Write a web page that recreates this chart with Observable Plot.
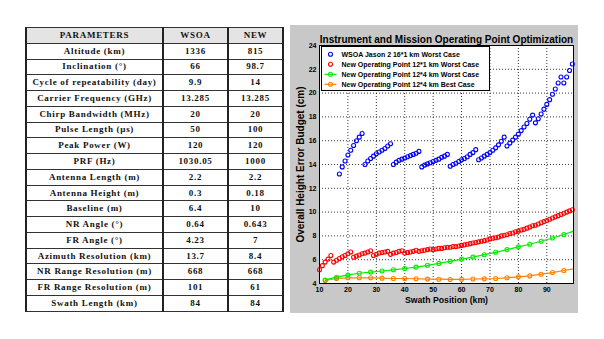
<!DOCTYPE html>
<html><head><meta charset="utf-8">
<script src="https://cdn.jsdelivr.net/npm/d3@7"></script>
<script src="https://cdn.jsdelivr.net/npm/@observablehq/plot@0.6"></script>
<style>
html,body{margin:0;padding:0;background:#fff;width:604px;height:339px;overflow:hidden;position:relative}
#tbl{position:absolute;left:25px;top:27px;border-collapse:collapse;width:257px;height:284px;font-family:"Liberation Serif","Times New Roman",serif;font-weight:bold;font-size:9px;color:#111;table-layout:fixed}
#tbl td{padding:0;text-align:center;border-top:1px solid #333;border-bottom:1px solid #333;border-left:2px solid #222;border-right:2px solid #222;white-space:nowrap;overflow:visible;letter-spacing:0.7px;line-height:1}
#tbl tr{height:15.78px}
#tbl tr.hdr td{background:#e4e4e4}
#panel{position:absolute;left:290px;top:25px;width:288px;height:288px;background:#c8c8c8}
#chart{position:absolute;left:0;top:0}
#legend{position:absolute;left:31px;top:21px;width:167px;height:43px;background:#fff;border:1px solid #000;font-family:"Liberation Sans",Arial,sans-serif;font-weight:bold;font-size:7px}
#legend svg{position:absolute;left:0;top:0}
</style>
</head><body>
<table id="tbl"><colgroup><col style="width:137px"><col style="width:65px"><col style="width:55px"></colgroup><tbody></tbody></table>
<div id="panel"><div id="chart"></div><div id="legend"></div></div>
<script>
// ---- table data ----
const tableHeader = ["PARAMETERS", "WSOA", "NEW"];
const paramNames = ["Altitude (km)", "Inclination (°)", "Cycle of repeatability (day)", "Carrier Frequency (GHz)",
  "Chirp Bandwidth (MHz)", "Pulse Length (µs)", "Peak Power (W)", "PRF (Hz)", "Antenna Length (m)",
  "Antenna Height (m)", "Baseline (m)", "NR Angle (°)", "FR Angle (°)", "Azimuth Resolution (km)",
  "NR Range Resolution (m)", "FR Range Resolution (m)", "Swath Length (km)"];
const wsoaValues = ["1336", "66", "9.9", "13.285", "20", "50", "120", "1030.05", "2.2", "0.3", "6.4", "0.64", "4.23", "13.7", "668", "101", "84"];
const newValues = ["815", "98.7", "14", "13.285", "20", "100", "120", "1000", "2.2", "0.18", "10", "0.643", "7", "8.4", "668", "61", "84"];

// ---- chart data ----
const chartTitle = "Instrument and Mission Operating Point Optimization";
const xLabel = "Swath Position (km)";
const yLabel = "Overall Height Error Budget (cm)";
const xTicks = [10, 20, 30, 40, 50, 60, 70, 80, 90];
const yTicks = [4, 6, 8, 10, 12, 14, 16, 18, 20, 22, 24];
const seriesNames = ["WSOA Jason 2 16*1 km Worst Case", "New Operating Point 12*1 km Worst Case",
  "New Operating Point 12*4 km Worst Case", "New Operating Point 12*4 km Best Case"];
const seriesColors = ["#0000ff", "#ff0000", "#00ee00", "#ff8000"];

const blueX = [17,18,19,20,21,22,23,24,25, 26,27,28,29,30,31,32,33,34,35, 36,37,38,39,40,41,42,43,44,45,
  46,47,48,49,50,51,52,53,54,55, 56,57,58,59,60,61,62,63,64,65, 66,67,68,69,70,71,72,73,74,75,
  76,77,78,79,80,81,82,83,84,85, 86,87,88,89,90,91,92,93,94,95, 96,97,98,99];
const blueY = [13.2,13.8,14.3,14.8,15.2,15.6,16.0,16.3,16.6,
  14.0,14.3,14.5,14.7,14.9,15.05,15.2,15.35,15.55,15.75,
  14.0,14.2,14.35,14.45,14.55,14.65,14.75,14.85,14.95,15.1,
  13.8,13.95,14.05,14.15,14.25,14.35,14.45,14.6,14.7,14.85,
  13.85,14.0,14.1,14.25,14.4,14.5,14.65,14.85,15.0,15.25,
  14.4,14.55,14.7,14.85,15.0,15.2,15.4,15.65,15.95,16.3,
  15.55,15.8,16.05,16.3,16.55,16.85,17.15,17.45,17.8,18.15,
  17.5,17.85,18.25,18.65,19.05,19.45,19.9,20.35,20.85,21.35,
  20.85,21.35,21.9,22.45];

const redX = [10,11,12,13,14,15,16,17,18,19,20,21,22,23,24,25,26,27,28,29,30,31,32,33,34,35,36,37,38,39,
  40,41,42,43,44,45,46,47,48,49,50,51,52,53,54,55,56,57,58,59,60,61,62,63,64,65,66,67,68,69,
  70,71,72,73,74,75,76,77,78,79,80,81,82,83,84,85,86,87,88,89,90,91,92,93,94,95,96,97,98,99];
const redY = [5.15,5.5,5.8,6.05,6.35, 5.8,5.95,6.1,6.25,6.35,6.5,6.65, 6.2,6.3,6.4,6.5,6.55,6.65,6.75,
  6.35,6.45,6.55,6.6,6.65,6.7, 6.45,6.55,6.6,6.7,6.75, 6.55,6.6,6.65,6.7,6.8, 6.7,6.75,6.8,6.85,6.9,
  6.85,6.9,6.95,6.95,7.0,7.05,7.05,7.1,7.1,7.15, 7.2,7.25,7.3,7.35,7.4,7.45,7.5,7.55,7.6,7.65,
  7.75,7.8,7.85,7.9,8.0,8.05,8.1,8.2,8.25,8.35, 8.4,8.5,8.55,8.65,8.75,8.85,8.9,9.0,9.1,9.2,
  9.3,9.4,9.5,9.6,9.7,9.8,9.9,10.0,10.1,10.2];

const greenX = [12,16,20,24,28,32,36,40,44,48,52,56,60,64,68,72,76,80,84,88,92,96,99.4];
const greenY = [4.3,4.53,4.72,4.86,4.96,5.05,5.15,5.26,5.38,5.53,5.69,5.86,6.05,6.22,6.42,6.62,6.85,7.08,7.3,7.55,7.82,8.12,8.4];
const orangeX = [12,16,20,24,28,32,36,40,44,48,52,56,60,64,68,72,76,80,84,88,92,96,99.4];
const orangeY = [4.25,4.42,4.48,4.48,4.48,4.45,4.42,4.42,4.4,4.37,4.36,4.34,4.35,4.38,4.39,4.42,4.48,4.56,4.64,4.78,4.92,5.09,5.23];

// ---- table ----
const tbody = document.querySelector("#tbl tbody");
const rows = [tableHeader].concat(paramNames.map((p, i) => [p, wsoaValues[i], newValues[i]]));
rows.forEach((r, i) => {
  const tr = document.createElement("tr");
  if (i === 0) tr.className = "hdr";
  r.forEach(c => { const td = document.createElement("td"); td.textContent = c; tr.appendChild(td); });
  tbody.appendChild(tr);
});

// ---- chart ----
const zip = (xs, ys) => xs.map((x, i) => ({x, y: ys[i]}));
const blue = zip(blueX, blueY), red = zip(redX, redY), green = zip(greenX, greenY), orange = zip(orangeX, orangeY);
const isMarker = d => Number.isInteger(d.x);
const font = "'Liberation Sans', Arial, Helvetica, sans-serif";
const R = 2, SW = 1.1;

const chart = Plot.plot({
  width: 288, height: 288,
  marginLeft: 29, marginRight: 5, marginTop: 20, marginBottom: 30,
  style: {background: "transparent", fontFamily: font, fontWeight: "bold", fontSize: "7px", color: "#000", overflow: "visible"},
  x: {domain: [10, 99.4], ticks: xTicks, tickSize: 0, tickPadding: 4, label: null},
  y: {domain: [4, 24], ticks: yTicks, tickSize: 0, tickPadding: 3, label: null},
  marks: [
    Plot.frame({fill: "white"}),
    Plot.ruleX(xTicks.filter(v => v > 10), {stroke: "#222", strokeDasharray: "1,2", strokeWidth: 0.9}),
    Plot.ruleY(yTicks.filter(v => v > 4 && v < 24), {stroke: "#222", strokeDasharray: "1,2", strokeWidth: 0.9}),
    Plot.line(orange, {x: "x", y: "y", stroke: seriesColors[3], strokeWidth: 1.2}),
    Plot.dot(orange, {filter: isMarker, x: "x", y: "y", r: R, stroke: seriesColors[3], strokeWidth: SW}),
    Plot.line(green, {x: "x", y: "y", stroke: seriesColors[2], strokeWidth: 1.2}),
    Plot.dot(green, {filter: isMarker, x: "x", y: "y", r: R, stroke: seriesColors[2], strokeWidth: SW}),
    Plot.dot(red, {x: "x", y: "y", r: R, stroke: seriesColors[1], strokeWidth: SW}),
    Plot.dot(blue, {x: "x", y: "y", r: R, stroke: seriesColors[0], strokeWidth: SW}),
    Plot.frame({stroke: "#000"}),
    Plot.text([chartTitle], {text: d => d, frameAnchor: "top", dy: -10, fontSize: 10, fontWeight: "bold", fill: "#000"}),
    Plot.text([xLabel], {text: d => d, frameAnchor: "bottom", dy: 19.5, fontSize: 8.7, fontWeight: "bold", fill: "#000"}),
    Plot.text([yLabel], {text: d => d, frameAnchor: "left", textAnchor: "middle", dx: -19, rotate: -90, fontSize: 10, fontWeight: "bold", fill: "#000"})
  ]
});
document.getElementById("chart").appendChild(chart);

// ---- legend ----
const lg = d3.select("#legend").append("svg").attr("width", 167).attr("height", 43)
  .style("font-family", font).style("font-weight", "bold").style("font-size", "7px");
seriesNames.forEach((name, i) => {
  const cy = 7.3 + i * 10;
  const g = lg.append("g");
  if (i >= 2) g.append("line").attr("x1", 2.5).attr("x2", 14.5).attr("y1", cy).attr("y2", cy)
    .attr("stroke", seriesColors[i]).attr("stroke-width", 1.2);
  g.append("circle").attr("cx", 8.5).attr("cy", cy).attr("r", R).attr("fill", "none")
    .attr("stroke", seriesColors[i]).attr("stroke-width", SW);
  g.append("text").attr("x", 19.5).attr("y", cy).attr("dy", "0.35em").text(name);
});
</script>
</body></html>
